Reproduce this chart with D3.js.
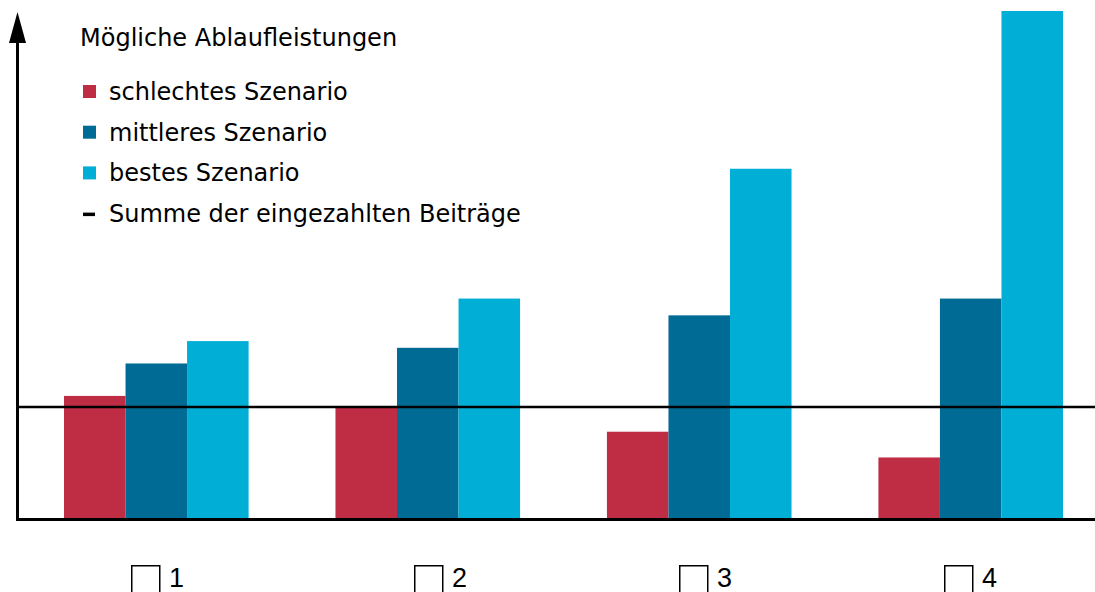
<!DOCTYPE html>
<html>
<head>
<meta charset="utf-8">
<script src="https://cdn.jsdelivr.net/npm/d3@7"></script>
<style>
  body { margin: 0; background: #fff; }
  svg { display: block; }
</style>
</head>
<body>
<svg id="chart" width="1095" height="592"></svg>
<script>
// options shown under the chart
var options = ["1", "2", "3", "4"];
var seriesNames = ["schlechtes Szenario", "mittleres Szenario", "bestes Szenario"];
var seriesColors = ["#bf2d45", "#006c95", "#00aed6"];
// values, "Summe der eingezahlten Beiträge" = 100
var schlecht = [110, 100, 78, 55];
var mittel = [139, 153, 182, 197];
var bestes = [159, 197, 313, 454];
var beitraege = 100;
var legendTitle = "Mögliche Ablaufleistungen";
var lineLabel = "Summe der eingezahlten Beiträge";

var svg = d3.select("#chart");

var x0 = d3.scaleBand().domain(options).range([64, 1063]).paddingInner(0.32).paddingOuter(0);
var x1 = d3.scaleBand().domain(seriesNames).range([0, x0.bandwidth()]);
var y = d3.scaleLinear().domain([0, 454]).range([519, 11]);
var color = d3.scaleOrdinal().domain(seriesNames).range(seriesColors);

var rows = options.map(function(o, i) {
  return { opt: o, vals: [schlecht[i], mittel[i], bestes[i]] };
});

// bars
var groups = svg.append("g").selectAll("g")
  .data(rows)
  .enter().append("g")
  .attr("transform", function(d) { return "translate(" + x0(d.opt) + ",0)"; });

groups.selectAll("rect")
  .data(function(d) { return d.vals.map(function(v, j) { return { name: seriesNames[j], v: v }; }); })
  .enter().append("rect")
  .attr("x", function(d) { return x1(d.name); })
  .attr("y", function(d) { return y(d.v); })
  .attr("width", x1.bandwidth())
  .attr("height", function(d) { return y(0) - y(d.v); })
  .style("fill", function(d) { return color(d.name); });

// contribution line
svg.append("line")
  .attr("x1", 17).attr("x2", 1095)
  .attr("y1", y(beitraege)).attr("y2", y(beitraege))
  .style("stroke", "#000").style("stroke-width", 2.5);

// axes
svg.append("line")
  .attr("x1", 16).attr("x2", 1095)
  .attr("y1", y(0) + 0.5).attr("y2", y(0) + 0.5)
  .style("stroke", "#000").style("stroke-width", 3);
svg.append("line")
  .attr("x1", 17.5).attr("x2", 17.5)
  .attr("y1", y(0) + 2).attr("y2", 40)
  .style("stroke", "#000").style("stroke-width", 3);
svg.append("path")
  .attr("d", "M17.5,12 L26,43 L9,43 Z")
  .style("fill", "#000");

// legend
var fs = "24px";
var legend = svg.append("g").style("font-family", "'DejaVu Sans', Verdana, sans-serif");
legend.append("text")
  .attr("x", 80).attr("y", 46)
  .style("font-size", fs)
  .text(legendTitle);

var items = legend.selectAll("g.item")
  .data(seriesNames)
  .enter().append("g")
  .attr("class", "item")
  .attr("transform", function(d, i) { return "translate(0," + (92 + i * 40.7) + ")"; });
items.append("rect")
  .attr("x", 83).attr("y", -7).attr("width", 13).attr("height", 13)
  .style("fill", function(d) { return color(d); });
items.append("text")
  .attr("x", 109).attr("y", 8)
  .style("font-size", fs)
  .text(function(d) { return d; });

var lineItem = legend.append("g").attr("transform", "translate(0," + (92 + 3 * 40.7) + ")");
lineItem.append("rect")
  .attr("x", 83).attr("y", -1.5).attr("width", 12).attr("height", 3.5)
  .style("fill", "#000");
lineItem.append("text")
  .attr("x", 109).attr("y", 8)
  .style("font-size", fs)
  .text(lineLabel);

// checkbox labels (not evenly spaced in the original)
var boxLeft = [131, 414, 679, 944];
var boxes = svg.append("g").selectAll("g")
  .data(options)
  .enter().append("g")
  .attr("transform", function(d, i) { return "translate(" + boxLeft[i] + ",0)"; });
boxes.append("rect")
  .attr("x", 0.75).attr("y", 565.75).attr("width", 28).attr("height", 30)
  .style("fill", "none").style("stroke", "#000").style("stroke-width", 1.5);
boxes.append("text")
  .attr("x", 38).attr("y", 587)
  .style("font-family", "'Liberation Sans', Arial, sans-serif")
  .style("font-size", "27px")
  .text(function(d) { return d; });
</script>
</body>
</html>
